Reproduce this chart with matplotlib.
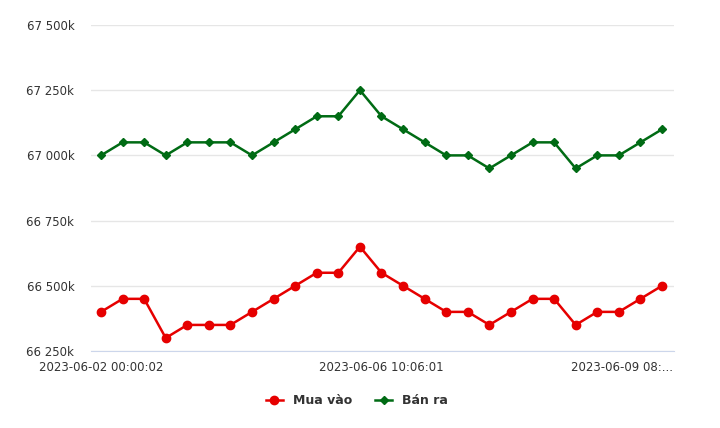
import matplotlib.pyplot as plt
from matplotlib.ticker import FuncFormatter
from matplotlib.lines import Line2D

# gia vang (VND), 27 lan cap nhat
mua_vao = [66400000, 66450000, 66450000, 66300000, 66350000, 66350000, 66350000,
           66400000, 66450000, 66500000, 66550000, 66550000, 66650000, 66550000,
           66500000, 66450000, 66400000, 66400000, 66350000, 66400000, 66450000,
           66450000, 66350000, 66400000, 66400000, 66450000, 66500000]
ban_ra = [67000000, 67050000, 67050000, 67000000, 67050000, 67050000, 67050000,
          67000000, 67050000, 67100000, 67150000, 67150000, 67250000, 67150000,
          67100000, 67050000, 67000000, 67000000, 66950000, 67000000, 67050000,
          67050000, 66950000, 67000000, 67000000, 67050000, 67100000]
tick_idx = [0, 13]
tick_labels = ["2023-06-02 00:00:02", "2023-06-06 10:06:01"]
last_label = "2023-06-09 08:..."

red = "#e60000"
green = "#006b14"
txt = "#333333"

fig = plt.figure(figsize=(7.2, 4.28), dpi=100)
ax = fig.add_axes([91 / 720, 1 - 351 / 428, 583 / 720, 326 / 428])

x = list(range(len(mua_vao)))
ax.plot(x, mua_vao, color=red, lw=1.8, marker="o", ms=6, zorder=3)
ax.plot(x, ban_ra, color=green, lw=1.8, marker="D", ms=4.5, zorder=3)

ax.set_xlim(-0.463, 26.556)
ax.set_ylim(66250000, 67500000)
ax.set_yticks(range(66250000, 67500001, 250000))
ax.yaxis.set_major_formatter(FuncFormatter(
    lambda v, p: "{:,}".format(int(round(v / 1000))).replace(",", " ") + "k"))
ax.grid(axis="y", color="#e6e6e6", lw=1)
ax.set_axisbelow(True)

ax.set_xticks(tick_idx)
ax.set_xticklabels(tick_labels)
ax.tick_params(axis="x", length=0, pad=7.5, labelsize=8.5, labelcolor=txt)
ax.tick_params(axis="y", length=0, pad=12, labelsize=8.5, labelcolor=txt)
ax.text(26.5, -0.052, last_label, transform=ax.get_xaxis_transform(),
        ha="right", va="center", fontsize=8.5, color=txt)

for s in ["top", "right", "left"]:
    ax.spines[s].set_visible(False)
ax.spines["bottom"].set_color("#ccd6eb")

handles = [Line2D([], [], color=red, lw=1.8, marker="o", ms=6),
           Line2D([], [], color=green, lw=1.8, marker="D", ms=4.5)]
fig.legend(handles, ["Mua vào", "Bán ra"], loc="center", bbox_to_anchor=(357 / 720, 1 - 401 / 428),
           ncol=2, frameon=False, handlelength=1.4, columnspacing=1.8,
           prop={"size": 9, "weight": "bold"}, labelcolor=txt)

fig.savefig("out.png", dpi=100)
